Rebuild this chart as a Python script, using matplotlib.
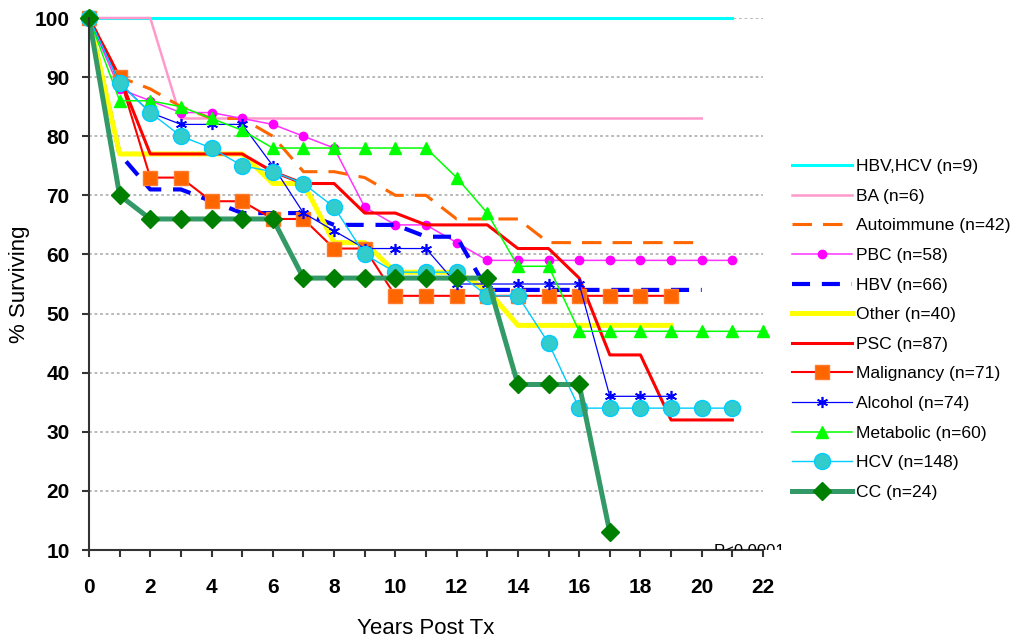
import matplotlib.pyplot as plt
from matplotlib.patches import Rectangle

plt.rcParams['font.family'] = ['Liberation Sans', 'DejaVu Sans']
plt.rcParams['lines.scale_dashes'] = False

# years post transplant (x categories)
years = [0, 1, 2, 3, 4, 5, 6, 7, 8, 9, 10, 11, 12, 13, 14, 15, 16, 17, 18, 19, 20, 21, 22]

# % surviving per diagnosis group, starting at year 0
hbv_hcv = [100, 100, 100, 100, 100, 100, 100, 100, 100, 100, 100, 100, 100, 100, 100, 100, 100, 100, 100, 100, 100, 100]
ba = [100, 100, 100, 83, 83, 83, 83, 83, 83, 83, 83, 83, 83, 83, 83, 83, 83, 83, 83, 83, 83]
autoimmune = [100, 90, 88, 85, 83, 83, 80, 74, 74, 73, 70, 70, 66, 66, 66, 62, 62, 62, 62, 62, 62]
pbc = [100, 88, 86, 84, 84, 83, 82, 80, 78, 68, 65, 65, 62, 59, 59, 59, 59, 59, 59, 59, 59, 59]
hbv = [100, 77, 71, 71, 69, 67, 67, 67, 65, 65, 65, 63, 63, 54, 54, 54, 54, 54, 54, 54, 54]
other = [100, 77, 77, 77, 77, 77, 72, 72, 62, 62, 57, 57, 57, 54, 48, 48, 48, 48, 48, 48]
psc = [100, 90, 77, 77, 77, 77, 74, 72, 72, 67, 67, 65, 65, 65, 61, 61, 56, 43, 43, 32, 32, 32]
malignancy = [100, 90, 73, 73, 69, 69, 66, 66, 61, 61, 53, 53, 53, 53, 53, 53, 53, 53, 53, 53]
alcohol = [100, 89, 84, 82, 82, 82, 75, 67, 64, 61, 61, 61, 55, 55, 55, 55, 55, 36, 36, 36]
metabolic = [100, 86, 86, 85, 83, 81, 78, 78, 78, 78, 78, 78, 73, 67, 58, 58, 47, 47, 47, 47, 47, 47, 47]
hcv = [100, 89, 84, 80, 78, 75, 74, 72, 68, 60, 57, 57, 57, 53, 53, 45, 34, 34, 34, 34, 34, 34]
cc = [100, 70, 66, 66, 66, 66, 66, 56, 56, 56, 56, 56, 56, 56, 38, 38, 38, 13]

x_ticks = [0, 2, 4, 6, 8, 10, 12, 14, 16, 18, 20, 22]
y_ticks = [10, 20, 30, 40, 50, 60, 70, 80, 90, 100]

fig = plt.figure(figsize=(10.2, 6.44), dpi=100)
ax = fig.add_axes([89/1020, 94/644, 674/1020, 532/644])

ax.yaxis.grid(True, color='#b3b3b3', linestyle=(0, (2, 2)), linewidth=1.3)
ax.set_axisbelow(True)

def draw(vals, label, **kw):
    ax.plot(years[:len(vals)], vals, label=label, clip_on=False, **kw)

draw(hbv_hcv, 'HBV,HCV (n=9)', color='#00ffff', lw=2.2)
draw(ba, 'BA (n=6)', color='#ff99cc', lw=1.8)
draw(autoimmune, 'Autoimmune (n=42)', color='#ff6600', lw=2.2, dashes=(14, 8))
draw(pbc, 'PBC (n=58)', color='#ff33ff', lw=1.1, marker='o', ms=6,
     mfc='#ff00ff', mec='#ff00ff')
draw(hbv, 'HBV (n=66)', color='#0000ff', lw=3, dashes=(13, 8.5))
draw(other, 'Other (n=40)', color='#ffff00', lw=3.6)
draw(psc, 'PSC (n=87)', color='#ff0000', lw=2.2)
draw(malignancy, 'Malignancy (n=71)', color='#ff0000', lw=1.5, marker='s', ms=10,
     mfc='#ff6600', mec='#ff7a2a')
draw(alcohol, 'Alcohol (n=74)', color='#0000ff', lw=0.9, marker=(6, 2, 0), ms=8,
     mec='#0000ff', mew=1.2)
draw(metabolic, 'Metabolic (n=60)', color='#00ff00', lw=1.1, marker='^', ms=8,
     mfc='#00ff00', mec='#00ff00')
draw(hcv, 'HCV (n=148)', color='#00ccff', lw=1, marker='o', ms=11.5,
     mfc='#33cccc', mec='#00ccff')
draw(cc, 'CC (n=24)', color='#339966', lw=3.6, marker='D', ms=9,
     mfc='#008000', mec='#008000')

ax.set_xlim(0, 22)
ax.set_ylim(10, 100)
ax.set_xticks(x_ticks)
ax.set_xticks(years, minor=True)
ax.set_yticks(y_ticks)
for s in ['top', 'right']:
    ax.spines[s].set_visible(False)
for s in ['left', 'bottom']:
    ax.spines[s].set_linewidth(1.5)
    ax.spines[s].set_color('#333333')
ax.tick_params(which='both', direction='out', length=5, width=1.5, color='#333333')
ax.tick_params(axis='x', pad=15)
ax.tick_params(axis='y', pad=9)
for lab in ax.get_xticklabels() + ax.get_yticklabels():
    lab.set_fontsize(15)
    lab.set_fontweight('bold')

ax.set_xlabel('Years Post Tx', fontsize=16, labelpad=15.5)
ax.set_ylabel('% Surviving', fontsize=16, labelpad=3)

# p-value text mostly hidden under the axis in the original
t = ax.text(20.4, 11.0, 'P<0.0001', fontsize=12, va='top', ha='left')
t.set_clip_on(True)
t.set_clip_path(Rectangle((0, 94), 1020, 550, transform=None))

fig.legend(loc='upper left', bbox_to_anchor=(792/1020, 1 - 159/644), frameon=False,
           fontsize=12.6, handlelength=3.45, handletextpad=0.2, labelspacing=0.82,
           borderaxespad=0, borderpad=0)

fig.savefig('out.png', dpi=100)
